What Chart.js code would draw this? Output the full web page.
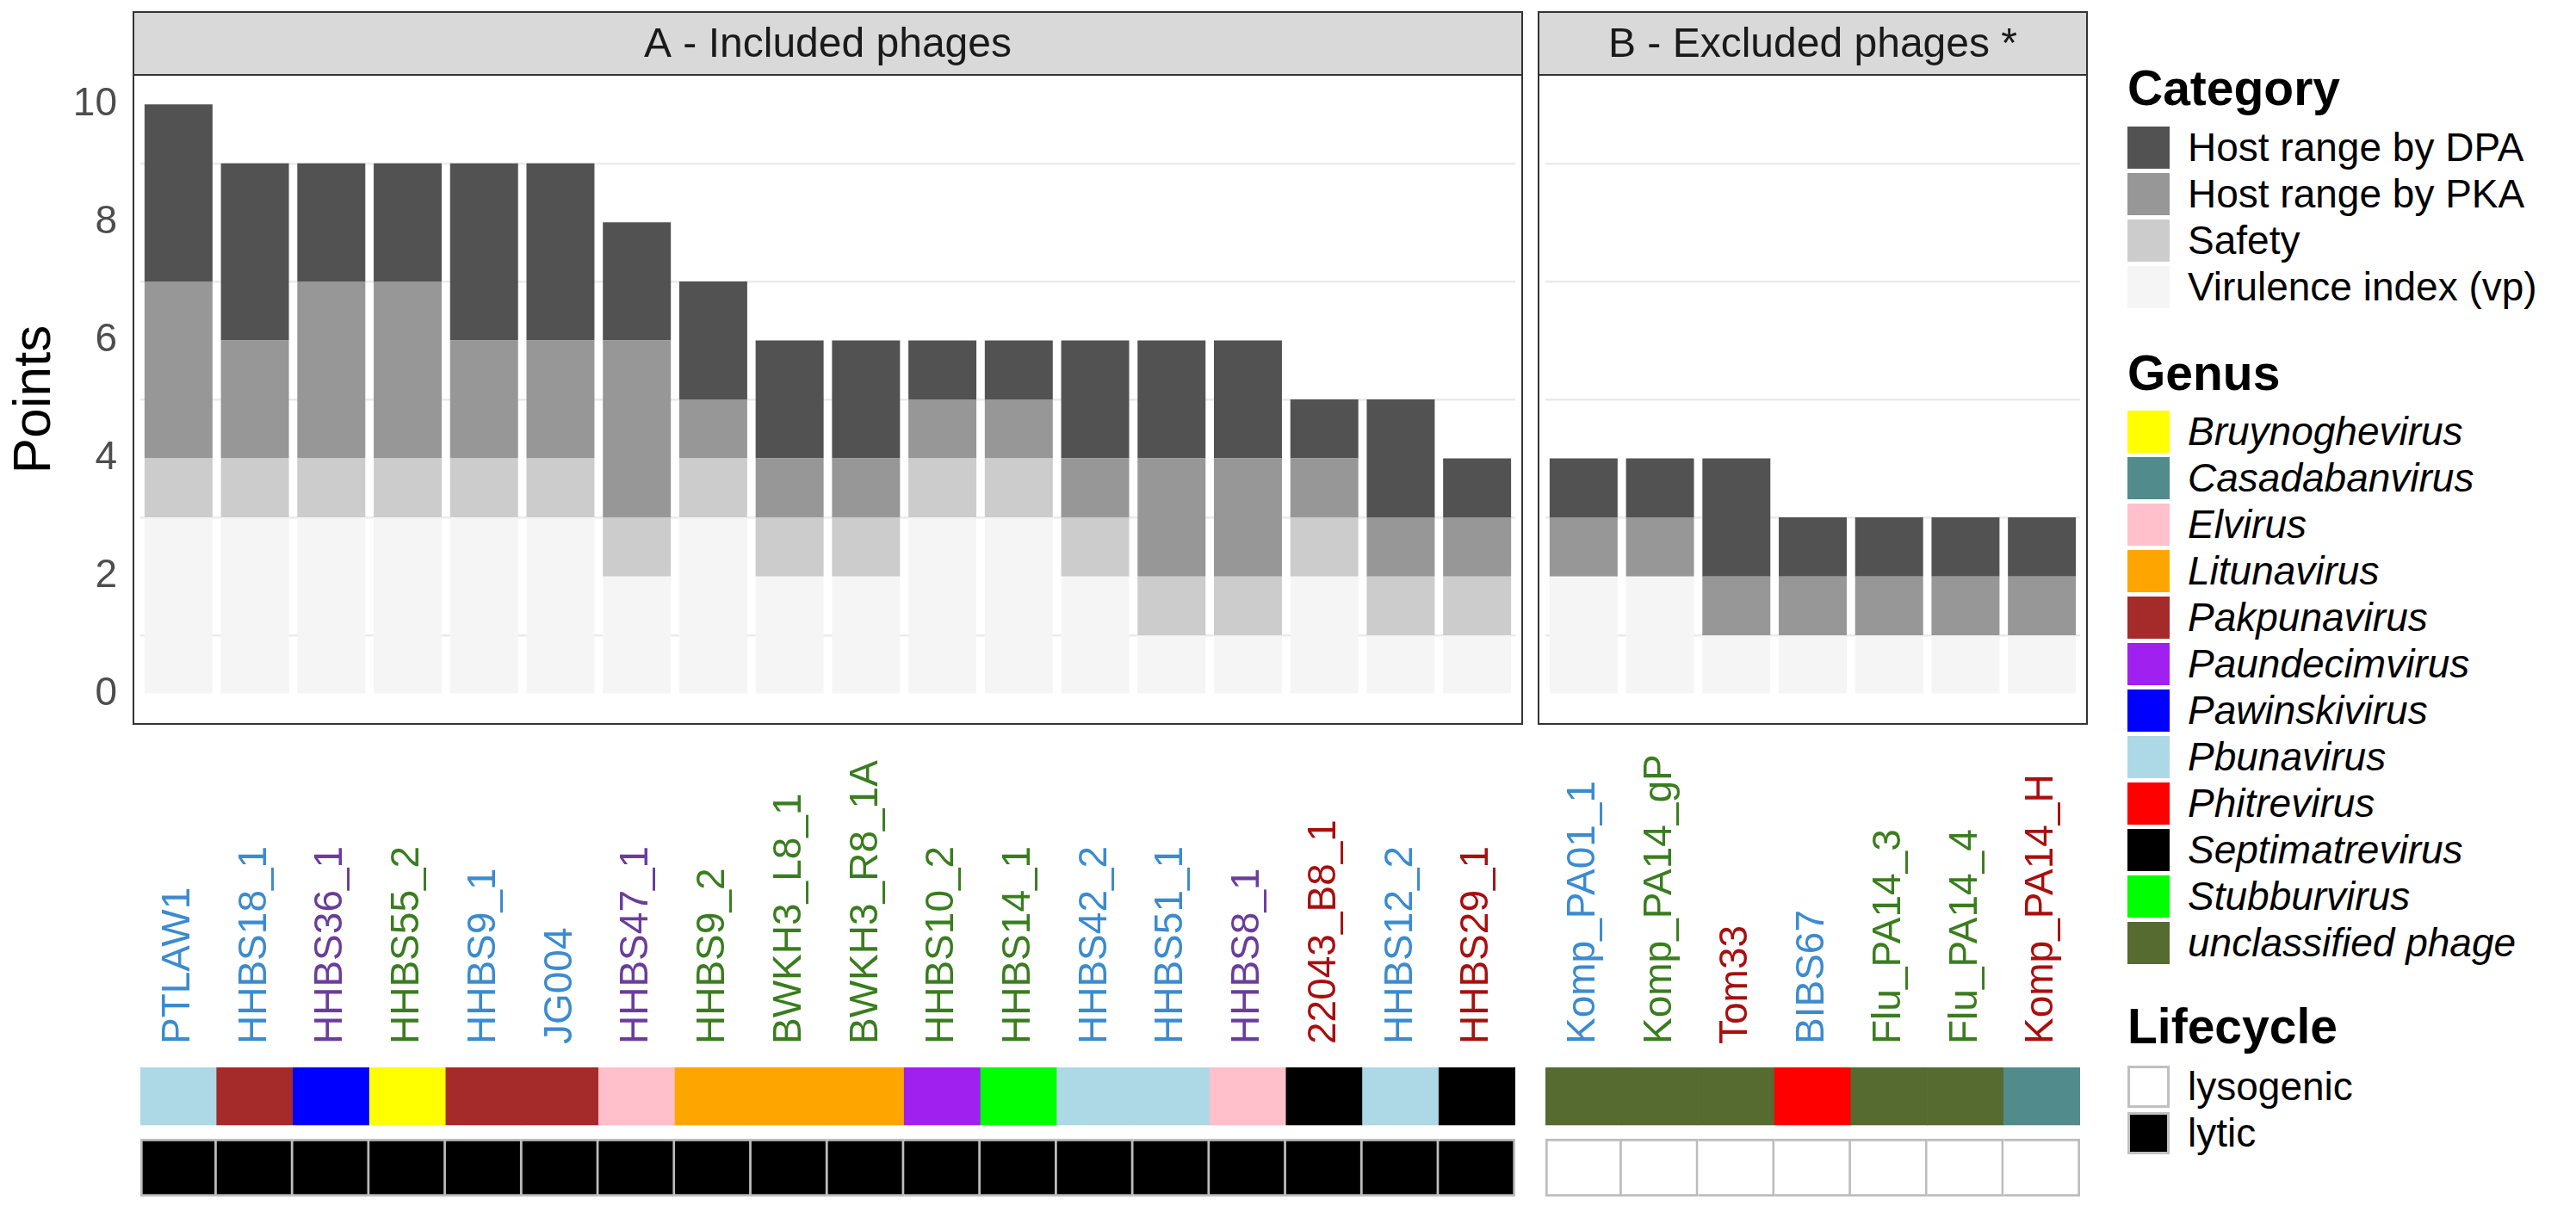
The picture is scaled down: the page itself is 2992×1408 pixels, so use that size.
<!DOCTYPE html>
<html>
<head>
<meta charset="utf-8">
<script src="https://cdn.jsdelivr.net/npm/chart.js@4.4.1/dist/chart.umd.min.js"></script>
<style>
  body { margin: 0; background: #fff; width: 2992px; height: 1408px; overflow: hidden; position: relative;
         font-family: "Liberation Sans", Arial, sans-serif; }
  canvas { position: absolute; }
  .lg { position: absolute; color: #000; white-space: nowrap; }
  .lg-title { font-weight: bold; font-size: 57px; line-height: 57px; }
  .lg-key { position: absolute; width: 49px; height: 49px; box-sizing: border-box; }
  .lg-text { font-size: 46px; line-height: 49px; }
</style>
</head>
<body>
<canvas id="mainA" width="1770" height="860" style="left:0;top:0"></canvas>
<canvas id="mainB" width="650" height="860" style="left:1780px;top:0"></canvas>
<canvas id="tilesA" width="1770" height="558" style="left:0;top:850px"></canvas>
<canvas id="tilesB" width="650" height="558" style="left:1780px;top:850px"></canvas>
<div id="legend"></div>
<script>
// ---- data ----
const phagesA = ['PTLAW1', 'HHBS18_1', 'HHBS36_1', 'HHBS55_2', 'HHBS9_1', 'JG004', 'HHBS47_1', 'HHBS9_2',
  'BWKH3_L8_1', 'BWKH3_R8_1A', 'HHBS10_2', 'HHBS14_1', 'HHBS42_2', 'HHBS51_1', 'HHBS8_1', '22043_B8_1',
  'HHBS12_2', 'HHBS29_1'];
const vpA     = [3, 3, 3, 3, 3, 3, 2, 3, 2, 2, 3, 3, 2, 1, 1, 2, 1, 1];
const safetyA = [1, 1, 1, 1, 1, 1, 1, 1, 1, 1, 1, 1, 1, 1, 1, 1, 1, 1];
const pkaA    = [3, 2, 3, 3, 2, 2, 3, 1, 1, 1, 1, 1, 1, 2, 2, 1, 1, 1];
const dpaA    = [3, 3, 2, 2, 3, 3, 2, 2, 2, 2, 1, 1, 2, 2, 2, 1, 2, 1];
const genusA  = ['Pbunavirus', 'Pakpunavirus', 'Pawinskivirus', 'Bruynoghevirus', 'Pakpunavirus', 'Pakpunavirus',
  'Elvirus', 'Litunavirus', 'Litunavirus', 'Litunavirus', 'Paundecimvirus', 'Stubburvirus', 'Pbunavirus',
  'Pbunavirus', 'Elvirus', 'Septimatrevirus', 'Pbunavirus', 'Septimatrevirus'];
const lifecycleA = ['lytic', 'lytic', 'lytic', 'lytic', 'lytic', 'lytic', 'lytic', 'lytic', 'lytic', 'lytic',
  'lytic', 'lytic', 'lytic', 'lytic', 'lytic', 'lytic', 'lytic', 'lytic'];
const labelGroupA = ['blue', 'blue', 'purple', 'green', 'blue', 'blue', 'purple', 'green', 'green', 'green',
  'green', 'green', 'blue', 'blue', 'purple', 'red', 'blue', 'red'];

const phagesB = ['Komp_PA01_1', 'Komp_PA14_gP', 'Tom33', 'BIBS67', 'Flu_PA14_3', 'Flu_PA14_4', 'Komp_PA14_H'];
const vpB     = [2, 2, 1, 1, 1, 1, 1];
const safetyB = [0, 0, 0, 0, 0, 0, 0];
const pkaB    = [1, 1, 1, 1, 1, 1, 1];
const dpaB    = [1, 1, 2, 1, 1, 1, 1];
const genusB  = ['unclassified phage', 'unclassified phage', 'unclassified phage', 'Phitrevirus',
  'unclassified phage', 'unclassified phage', 'Casadabanvirus'];
const lifecycleB = ['lysogenic', 'lysogenic', 'lysogenic', 'lysogenic', 'lysogenic', 'lysogenic', 'lysogenic'];
const labelGroupB = ['blue', 'green', 'red', 'blue', 'green', 'green', 'red'];

const yTicks = [0, 1, 2, 3, 4, 5, 6, 7, 8, 9, 10];

const categories = ['Host range by DPA', 'Host range by PKA', 'Safety', 'Virulence index (vp)'];
const categoryColors = ['#525252', '#979797', '#cccccc', '#f5f5f5'];
const genusNames = ['Bruynoghevirus', 'Casadabanvirus', 'Elvirus', 'Litunavirus', 'Pakpunavirus', 'Paundecimvirus',
  'Pawinskivirus', 'Pbunavirus', 'Phitrevirus', 'Septimatrevirus', 'Stubburvirus', 'unclassified phage'];
const genusPalette = ['#ffff00', '#528b8b', '#ffc0cb', '#ffa500', '#a52a2a', '#a020f0',
  '#0000ff', '#add8e6', '#ff0000', '#000000', '#00ff00', '#556b2f'];
const lifecycles = ['lysogenic', 'lytic'];
const lifecyclePalette = ['#ffffff', '#000000'];
const labelPalette = { blue: '#3b8bcf', purple: '#6a3d9a', green: '#3a7d1f', red: '#a80f0f' };

const FONT = '"Liberation Sans", Arial, sans-serif';
Chart.defaults.font.family = FONT;

const genusColor = g => genusPalette[genusNames.indexOf(g)];
const lifeColor = l => lifecyclePalette[lifecycles.indexOf(l)];

// facet strip + panel border, drawn around the chart area
const stripPlugin = {
  id: 'strip',
  afterDraw(chart, args, opts) {
    const ctx = chart.ctx, a = chart.chartArea;
    const l = a.left - 8, r = a.right + 8, top = 14;
    ctx.save();
    ctx.fillStyle = '#d9d9d9';
    ctx.fillRect(l, top, r - l, a.top - top);
    ctx.strokeStyle = '#333333';
    ctx.lineWidth = 2;
    ctx.strokeRect(l, top, r - l, a.top - top);
    ctx.strokeRect(l, a.top, r - l, a.bottom - a.top);
    ctx.fillStyle = '#1a1a1a';
    ctx.font = '48px ' + FONT;
    ctx.textAlign = 'center';
    ctx.textBaseline = 'middle';
    ctx.fillText(opts.text, (l + r) / 2, (top + a.top) / 2 + 2);
    ctx.restore();
  }
};

function panelChart(id, labels, vp, safety, pka, dpa, title, withAxis, pad) {
  return new Chart(document.getElementById(id), {
    type: 'bar',
    data: {
      labels: labels,
      datasets: [
        { label: categories[3], data: vp, backgroundColor: categoryColors[3] },
        { label: categories[2], data: safety, backgroundColor: categoryColors[2] },
        { label: categories[1], data: pka, backgroundColor: categoryColors[1] },
        { label: categories[0], data: dpa, backgroundColor: categoryColors[0] }
      ]
    },
    options: {
      responsive: false,
      animation: false,
      devicePixelRatio: 1,
      layout: { padding: pad },
      datasets: { bar: { barPercentage: 0.89, categoryPercentage: 1 } },
      plugins: {
        legend: { display: false },
        tooltip: { enabled: false },
        strip: { text: title }
      },
      scales: {
        x: { display: false, stacked: true },
        y: {
          stacked: true,
          min: -0.5,
          max: 10.5,
          afterBuildTicks: s => { s.ticks = yTicks.map(v => ({ value: v })); },
          afterFit: s => {
            s.width = withAxis ? 163 : 0;
            s.paddingTop = 0;
            s.paddingBottom = 0;
          },
          ticks: {
            display: withAxis,
            callback: v => (v % 2 === 0 ? v : ''),
            color: '#4d4d4d',
            font: { size: 46 },
            padding: 27
          },
          grid: {
            color: c => (c.tick && c.tick.value % 2 ? '#ebebeb' : 'rgba(0,0,0,0)'),
            lineWidth: 2.5,
            drawTicks: false
          },
          border: { display: false },
          title: {
            display: withAxis,
            text: 'Points',
            color: '#000000',
            font: { size: 62 },
            padding: { top: 4, bottom: 0 }
          }
        }
      }
    },
    plugins: [stripPlugin]
  });
}

function tileChart(id, labels, groups, genus, lifecycle, pad) {
  return new Chart(document.getElementById(id), {
    type: 'bar',
    data: {
      labels: labels,
      datasets: [
        {
          label: 'Genus',
          data: genus.map(() => [1.24, 2.24]),
          backgroundColor: genus.map(genusColor),
          grouped: false
        },
        {
          label: 'Lifecycle',
          data: lifecycle.map(() => [0, 1]),
          backgroundColor: lifecycle.map(lifeColor),
          borderColor: '#bdbdbd',
          borderWidth: c => ({ top: 3, bottom: 3, right: 3, left: c.dataIndex === 0 ? 3 : 0 }),
          borderSkipped: false,
          grouped: false
        }
      ]
    },
    options: {
      responsive: false,
      animation: false,
      devicePixelRatio: 1,
      layout: { padding: pad },
      datasets: { bar: { barPercentage: 1, categoryPercentage: 1 } },
      plugins: { legend: { display: false }, tooltip: { enabled: false } },
      scales: {
        x: {
          position: 'top',
          grid: { display: false, drawTicks: false },
          border: { display: false },
          afterFit: s => {
            s.height = 390;
            s.paddingLeft = 0;
            s.paddingRight = 0;
          },
          ticks: {
            autoSkip: false,
            minRotation: 90,
            maxRotation: 90,
            padding: 27,
            // top-axis rotated labels land one line-height to the left; shift them back
            labelOffset: 55.2,
            color: c => labelPalette[groups[c.index]],
            font: { size: 46, lineHeight: 1.2 }
          }
        },
        y: { display: false, min: 0, max: 2.24 }
      }
    }
  });
}

panelChart('mainA', phagesA, vpA, safetyA, pkaA, dpaA, 'A - Included phages', true,
  { top: 87, right: 10, bottom: 19, left: 0 });
panelChart('mainB', phagesB, vpB, safetyB, pkaB, dpaB, 'B - Excluded phages *', false,
  { top: 87, right: 14, bottom: 19, left: 15 });
tileChart('tilesA', phagesA, labelGroupA, genusA, lifecycleA, { top: 0, right: 10, bottom: 18, left: 163 });
tileChart('tilesB', phagesB, labelGroupB, genusB, lifecycleB, { top: 0, right: 14, bottom: 18, left: 15 });

// ---- legend ----
const legend = document.getElementById('legend');
function addTitle(text, top) {
  const d = document.createElement('div');
  d.className = 'lg lg-title';
  d.style.left = '2471px';
  d.style.top = top + 'px';
  d.textContent = text;
  legend.appendChild(d);
}
function addItem(text, color, top, italic, border) {
  const k = document.createElement('div');
  k.className = 'lg-key';
  k.style.left = '2471px';
  k.style.top = top + 'px';
  k.style.background = color;
  if (border) k.style.border = '3px solid #c0c0c0';
  legend.appendChild(k);
  const t = document.createElement('div');
  t.className = 'lg lg-text';
  t.style.left = '2541px';
  t.style.top = top + 'px';
  if (italic) t.style.fontStyle = 'italic';
  t.textContent = text;
  legend.appendChild(t);
}
addTitle('Category', 74);
categories.forEach((c, i) => addItem(c, categoryColors[i], 147 + i * 54, false, false));
addTitle('Genus', 405);
genusNames.forEach((g, i) => addItem(g, genusPalette[i], 477 + i * 54, true, false));
addTitle('Lifecycle', 1164);
lifecycles.forEach((l, i) => addItem(l, lifecyclePalette[i], 1238 + i * 54, false, true));
</script>
</body>
</html>
